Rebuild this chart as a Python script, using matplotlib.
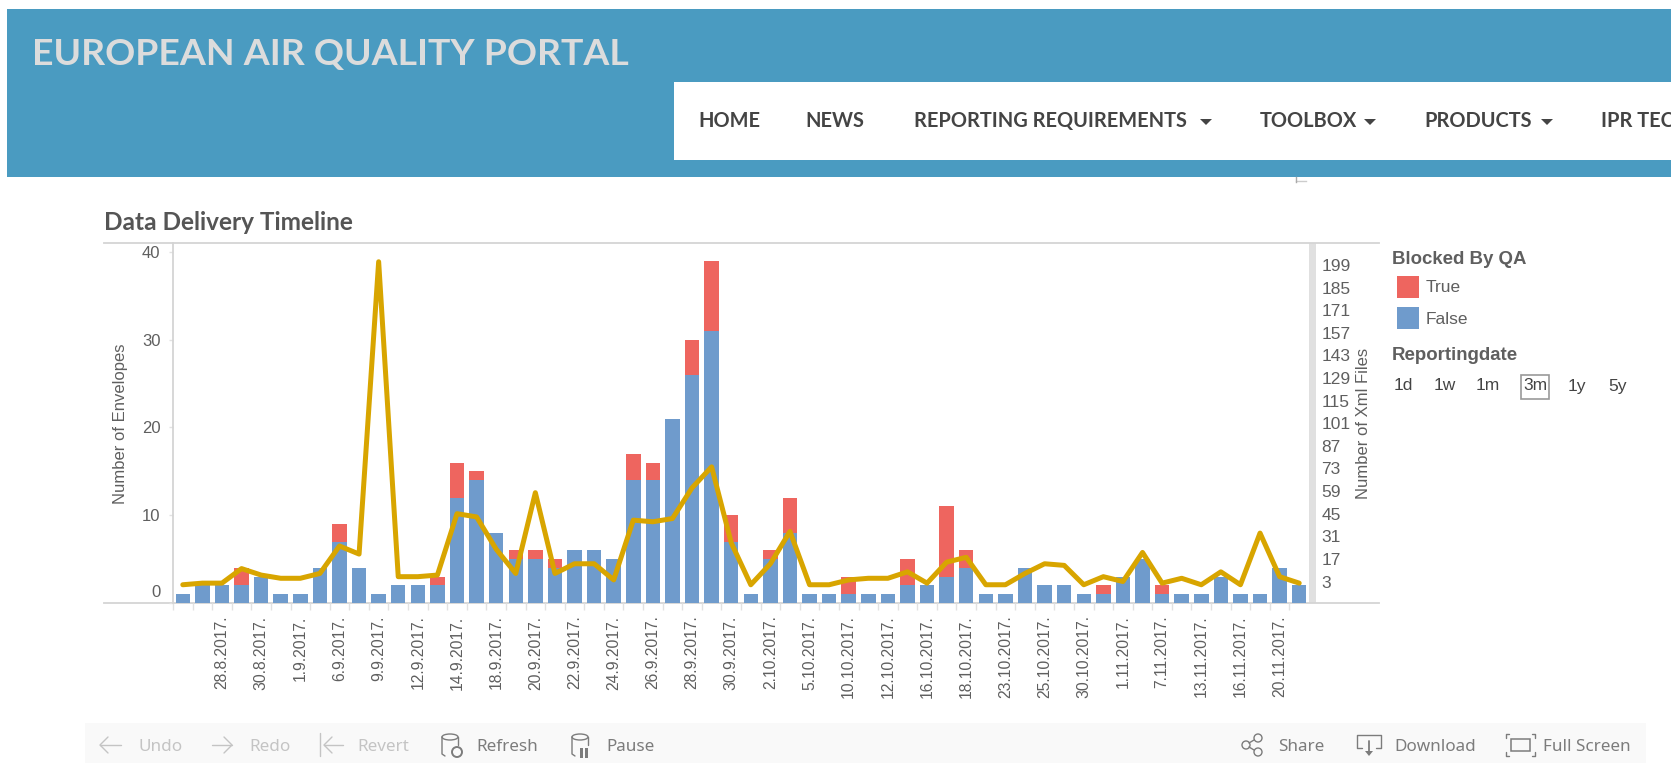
import matplotlib
matplotlib.use('Agg')
import matplotlib.pyplot as plt
from matplotlib.patches import Rectangle, Polygon, Circle, Ellipse
from matplotlib.transforms import ScaledTranslation

W, H = 1671, 763

# values
not_blocked = [1, 2, 2, 2, 3, 1, 1, 4, 7, 4, 1, 2, 2, 2, 12, 14, 8, 5, 5, 4, 6, 6, 5, 14, 14, 21, 26, 31, 7,
               1, 5, 8, 1, 1, 1, 1, 1, 2, 2, 3, 4, 1, 1, 4, 2, 2, 1, 1, 3, 5, 1, 1, 1, 3, 1, 1, 4, 2]
blocked = [0, 0, 0, 2, 0, 0, 0, 0, 2, 0, 0, 0, 0, 1, 4, 1, 0, 1, 1, 1, 0, 0, 0, 3, 2, 0, 4, 8, 3,
           0, 1, 4, 0, 0, 2, 0, 0, 3, 0, 8, 2, 0, 0, 0, 0, 0, 0, 1, 0, 0, 1, 0, 0, 0, 0, 0, 0, 0]
xml_files = [1, 2, 2, 11, 7, 5, 5, 8, 25, 20, 201, 6, 6, 7, 45, 43, 23, 8, 58, 8, 14, 14, 4, 41, 40, 42, 61, 74, 27,
             1, 14, 34, 1, 1, 4, 5, 5, 9, 2, 15, 18, 1, 1, 8, 14, 13, 1, 6, 3, 21, 2, 5, 1, 9, 1, 33, 6, 2]
date_labels = ['28.8.2017.', '30.8.2017.', '1.9.2017.', '6.9.2017.', '9.9.2017.', '12.9.2017.', '14.9.2017.',
               '18.9.2017.', '20.9.2017.', '22.9.2017.', '24.9.2017.', '26.9.2017.', '28.9.2017.', '30.9.2017.',
               '2.10.2017.', '5.10.2017.', '10.10.2017.', '12.10.2017.', '16.10.2017.', '18.10.2017.',
               '23.10.2017.', '25.10.2017.', '30.10.2017.', '1.11.2017.', '7.11.2017.', '13.11.2017.',
               '16.11.2017.', '20.11.2017.']
left_ticks = [0, 10, 20, 30, 40]
right_ticks = [3, 17, 31, 45, 59, 73, 87, 101, 115, 129, 143, 157, 171, 185, 199]
right_marks = [17, 73, 129, 185]
nav_items = ['HOME', 'NEWS', 'REPORTING REQUIREMENTS', 'TOOLBOX', 'PRODUCTS', 'IPR TEC']
nav_x = [698, 805, 914, 1260, 1424, 1601]
range_labels = ['1d', '1w', '1m', '3m', '1y', '5y']
range_x = [1403.5, 1445, 1488, 1535, 1577, 1618]

BLUE = '#6f9bcc'
RED = '#ee655f'
GOLD = '#d8a500'
RULE = '#d4d4d4'
GREY = '#5f5f5f'
ARIAL = 'Liberation Sans'

fig = plt.figure(figsize=(W / 100, H / 100), dpi=100, facecolor='white')

# page furniture, in pixel coordinates
bg = fig.add_axes([0, 0, 1, 1], zorder=0)
bg.set_xlim(0, W)
bg.set_ylim(H, 0)
bg.axis('off')

bg.add_patch(Rectangle((7, 8.5), W - 7, 168.5, fc='#4a9bc1', ec='none'))
bg.add_patch(Rectangle((674, 82), W - 674, 78, fc='white', ec='none'))
bg.text(32, 54.5, 'EUROPEAN AIR QUALITY PORTAL', family='Lato', weight='bold', fontsize=26.9,
        color='#dcdcdc', va='center')
for name, x in zip(nav_items, nav_x):
    bg.text(x, 121, name, family='Lato', weight='bold', fontsize=14.4, color='#444444', va='center',
            clip_on=True)
for x in [1206, 1370, 1547]:
    bg.add_patch(Polygon([(x - 6, 119), (x + 6, 119), (x, 125)], fc='#444444', ec='none'))
bg.plot([1296, 1306], [181, 181], color='#cccccc', lw=1)
bg.plot([1296, 1296], [177, 182], color='#aaaaaa', lw=1)

bg.text(104.5, 222, 'Data Delivery Timeline', family='Lato', weight='bold', fontsize=17.6,
        color='#555555', va='center')
bg.plot([104, 1379], [243, 243], color=RULE, lw=1.3)
bg.plot([104, 1379], [603, 603], color=RULE, lw=1.3)
bg.add_patch(Rectangle((1309, 243), 7, 360, fc='#e0e0e0', ec='none'))

# legend and date range
bg.text(1392, 259, 'Blocked By QA', family=ARIAL, weight='bold', fontsize=13.4, color=GREY, va='center')
bg.add_patch(Rectangle((1397, 275.5), 22, 22, fc=RED, ec='none'))
bg.add_patch(Rectangle((1397, 306.5), 22, 22, fc=BLUE, ec='none'))
bg.text(1426, 288, 'True', family=ARIAL, fontsize=12.5, color=GREY, va='center')
bg.text(1426, 320, 'False', family=ARIAL, fontsize=12.5, color=GREY, va='center')
bg.text(1392, 355, 'Reportingdate', family=ARIAL, weight='bold', fontsize=13.4, color=GREY, va='center')
for name, x in zip(range_labels, range_x):
    bg.text(x, 386, name, family=ARIAL, fontsize=12.5, color='#444444', va='center', ha='center')
bg.add_patch(Rectangle((1521, 375), 28, 24, fc='none', ec='#999999', lw=1.2))

# toolbar
bg.add_patch(Rectangle((85, 723), 1561, 40, fc='#f9f9f9', ec='none'))
tool_off = '#c4c4c4'
tool_on = '#7c7c7c'
for name, x, c in [('Undo', 138, tool_off), ('Redo', 249, tool_off), ('Revert', 357, tool_off),
                   ('Refresh', 476, tool_on), ('Pause', 606, tool_on), ('Share', 1278, tool_on),
                   ('Download', 1394, tool_on), ('Full Screen', 1543, tool_on)]:
    bg.text(x, 747, name, family='Noto Sans', fontsize=12.3, color=c, va='center')


def line(xs, ys, c=tool_on, lw=1.0):
    bg.plot(xs, ys, color=c, lw=lw, solid_capstyle='round')


# undo, redo, revert
line([100, 121], [745, 745], tool_off)
line([108, 100, 108], [737, 745, 753], tool_off)
line([212, 232], [745, 745], tool_off)
line([224, 232, 224], [737, 745, 753], tool_off)
line([320, 320], [733, 756], tool_off)
line([324, 343], [745, 745], tool_off)
line([332, 324, 332], [737, 745, 753], tool_off)
# refresh and pause
for x in [442, 572]:
    bg.add_patch(Ellipse((x + 8, 737), 16, 6, fc='none', ec=tool_on, lw=1))
    line([x, x, x + 3], [737, 754, 756])
    line([x + 16, x + 16], [737, 745])
bg.add_patch(Circle((457, 752), 5, fc='none', ec=tool_on, lw=1.4))
bg.add_patch(Rectangle((580, 748), 2.5, 10, fc=tool_on, ec='none'))
bg.add_patch(Rectangle((585, 748), 2.5, 10, fc=tool_on, ec='none'))
# share
for cx, cy in [(1246, 745), (1258, 738), (1258, 752)]:
    bg.add_patch(Circle((cx, cy), 4, fc='none', ec=tool_on, lw=1))
line([1249, 1254], [743, 740])
line([1249, 1254], [747, 750])
# download
line([1362, 1357, 1357, 1381, 1381, 1376], [748, 748, 735, 735, 748, 748])
line([1369, 1369], [741, 752], lw=1.3)
bg.add_patch(Polygon([(1365, 751), (1373, 751), (1369, 756)], fc=tool_on, ec='none'))
# full screen
bg.add_patch(Rectangle((1511, 739), 19, 12, fc='none', ec=tool_on, lw=1.1))
for x0, x1 in [(1506, 1509), (1535, 1532)]:
    line([x1, x0, x0], [734, 734, 738])
    line([x1, x0, x0], [756, 756, 752])

# chart
ax = fig.add_axes([173 / W, 1 - 603 / H, (1309 - 173) / W, 360 / H], zorder=1)
ax.set_facecolor('none')
x = list(range(len(not_blocked)))
ax.bar(x, not_blocked, width=0.74, color=BLUE, lw=0)
ax.bar(x, blocked, width=0.74, bottom=not_blocked, color=RED, lw=0)
ax.set_xlim(-0.5, 57.5)
ax.set_ylim(0, 41)

for s in ['top', 'right', 'bottom']:
    ax.spines[s].set_visible(False)
ax.spines['left'].set_color(RULE)
ax.spines['left'].set_linewidth(1.3)

ax.set_xticks(x[2::2][:len(date_labels)])
ax.set_xticklabels(date_labels, rotation=90, family=ARIAL, fontsize=11.3, color=GREY)
ax.set_xticks([i - 0.5 for i in x], minor=True)
ax.tick_params(axis='x', which='major', length=0, pad=9)
ax.tick_params(axis='x', which='minor', length=5, width=1, color='#e2e2e2')

ax.set_yticks(left_ticks)
ax.set_yticklabels(left_ticks, family=ARIAL, fontsize=12, color=GREY)
ax.tick_params(axis='y', length=3, width=1, color='#e2e2e2', pad=6)
zero = ax.get_yticklabels()[0]
zero.set_va('bottom')
zero.set_transform(zero.get_transform() + ScaledTranslation(0, 3 / 100, fig.dpi_scale_trans))
fig.text(120 / W, 1 - 424 / H, 'Number of Envelopes', rotation=90, family=ARIAL, fontsize=12,
         color=GREY, ha='center', va='center')

ax2 = ax.twinx()
ax2.set_facecolor('none')
ax2.plot(x, xml_files, color=GOLD, lw=3.6, solid_joinstyle='round', solid_capstyle='round')
ax2.set_ylim(-10.3, 212.6)
for s in ax2.spines.values():
    s.set_visible(False)
ax2.set_yticks(right_ticks)
ax2.set_yticklabels(right_ticks, family=ARIAL, fontsize=12.5, color=GREY)
ax2.set_yticks(right_marks, minor=True)
ax2.tick_params(axis='y', which='major', length=0, pad=9)
ax2.tick_params(axis='y', which='minor', length=4, width=1, color='#f0f0f0', pad=7)
fig.text(1364 / W, 1 - 423 / H, 'Number of Xml Files', rotation=90, family=ARIAL, fontsize=12,
         color=GREY, ha='center', va='center')

fig.savefig('out.png', dpi=100)
